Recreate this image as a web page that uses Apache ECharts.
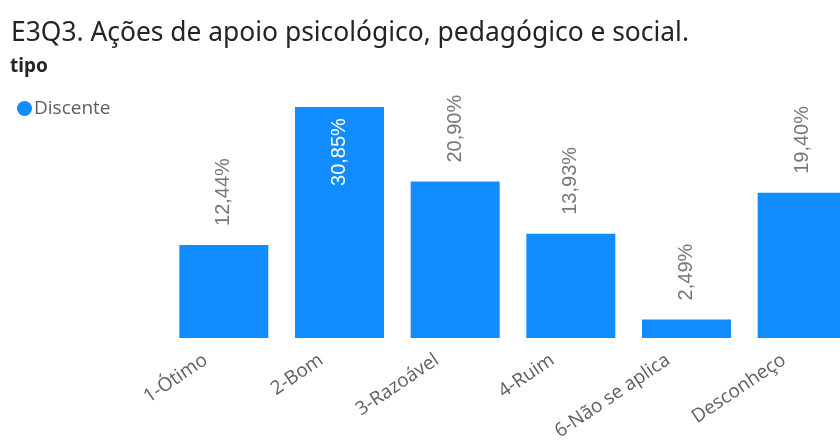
<!DOCTYPE html>
<html>
<head>
<meta charset="utf-8">
<script src="https://cdn.jsdelivr.net/npm/echarts@6/dist/echarts.min.js"></script>
<style>
html,body{margin:0;padding:0;background:#fff;overflow:hidden;width:840px;height:443px;}
#c{width:860px;height:443px;}
</style>
</head>
<body>
<div id="c"></div>
<script>
const categories = ['1-Ótimo', '2-Bom', '3-Razoável', '4-Ruim', '6-Não se aplica', 'Desconheço'];
const discente = [12.44, 30.85, 20.90, 13.93, 2.49, 19.40];
const insideIndex = 1;

const chart = echarts.init(document.getElementById('c'), null, {renderer: 'canvas'});
const fmt = p => p.value.toFixed(2).replace('.', ',') + '%';

const data = discente.map((v, i) => {
  if (i === insideIndex) {
    return {value: v, label: {position: 'insideTop', distance: 11, align: 'right', color: '#ffffff'}};
  }
  return {value: v};
});

chart.setOption({
  animation: false,
  backgroundColor: '#ffffff',
  title: {
    text: 'E3Q3. Ações de apoio psicológico, pedagógico e social.',
    left: 6, top: 15,
    textStyle: {fontFamily: 'Noto Sans', fontSize: 26.4, fontWeight: 'normal', color: '#252423'}
  },
  graphic: [{
    type: 'text', left: 10, top: 57,
    style: {text: 'tipo', font: 'bold 19px "Noto Sans"', fill: '#252423'}
  }],
  legend: {
    left: 12, top: 94,
    icon: 'circle', itemWidth: 15, itemHeight: 15, itemGap: 10,
    textStyle: {fontFamily: 'Open Sans', fontSize: 19, color: '#605E5C', padding: [0, 0, 0, -3]},
    data: ['Discente']
  },
  grid: {left: 166, right: 0, top: 106, bottom: 104},
  xAxis: {
    type: 'category', data: categories,
    axisLine: {show: false}, axisTick: {show: false},
    axisLabel: {rotate: 34, margin: 8, fontFamily: 'Open Sans', fontSize: 19, color: '#605E5C',
      interval: 0, padding: [0, 22, 0, 0]}
  },
  yAxis: {type: 'value', min: 0, max: 31, show: false, splitLine: {show: false}},
  series: [{
    name: 'Discente', type: 'bar', data: data, barWidth: 89,
    itemStyle: {color: '#118DFF'},
    label: {
      show: true, position: 'top', rotate: 90, align: 'left', verticalAlign: 'middle',
      distance: 19, formatter: fmt, fontFamily: 'Liberation Sans', fontSize: 20, color: '#777777'
    }
  }]
});
</script>
</body>
</html>
